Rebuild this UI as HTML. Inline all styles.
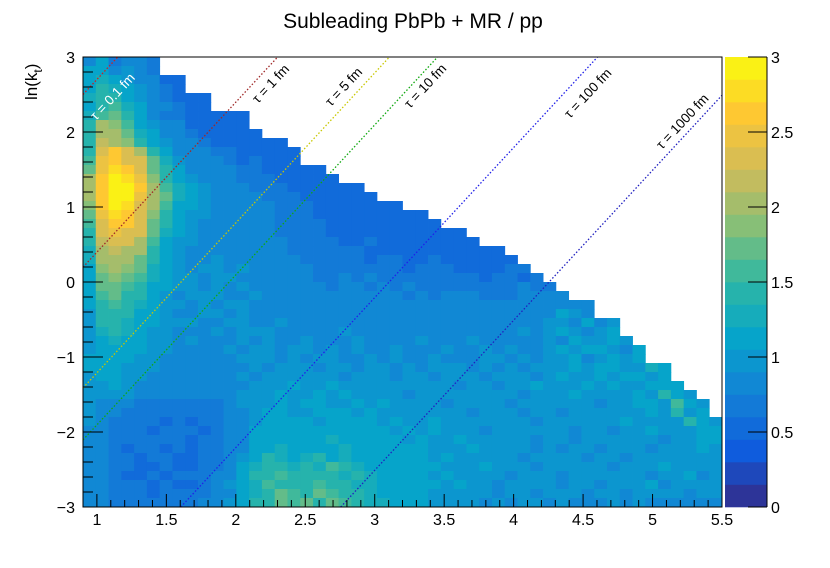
<!DOCTYPE html>
<html><head><meta charset="utf-8"><style>
html,body{margin:0;padding:0;background:#fff;}
svg text{font-family:"Liberation Sans",sans-serif;}
</style></head><body>
<svg id="chart" width="830" height="563" xmlns="http://www.w3.org/2000/svg">
<rect x="0" y="0" width="830" height="563" fill="#fff"/>
<text x="413" y="28" font-size="21" text-anchor="middle" fill="#000">Subleading PbPb + MR / pp</text>
<g id="cells"></g>
<g id="lines"></g>
<g id="axes"></g>
<g id="cbar"></g>
<text transform="translate(37,100) rotate(-90)" font-size="17" fill="#000">ln(k<tspan font-size="12" dy="5">t</tspan><tspan dy="-5">)</tspan></text>
</svg>
<script>
// ---- data ----
const xBinEdges = [0.9, 5.5];
const yBinEdges = [-3, 3];
const nXBins = 50;
const nYBins = 50;
const xTickLabels = ["1","1.5","2","2.5","3","3.5","4","4.5","5","5.5"];
const xTickValues = [1,1.5,2,2.5,3,3.5,4,4.5,5,5.5];
const yTickLabels = ["\u22123","\u22122","\u22121","0","1","2","3"];
const yTickValues = [-3,-2,-1,0,1,2,3];
const zTickValues = [0,0.5,1,1.5,2,2.5,3];
const zTickLabels = ["0","0.5","1","1.5","2","2.5","3"];
const tauValues = [0.1,1,5,10,100,1000];
const tauLabels = ["\u03c4 = 0.1 fm","\u03c4 = 1 fm","\u03c4 = 5 fm","\u03c4 = 10 fm","\u03c4 = 100 fm","\u03c4 = 1000 fm"];
const tauColors = ["#d02020","#a02828","#c8c800","#10a810","#2020e8","#2020c0"];
// rows from top (ln kt = 3) to bottom; code: 0-9 => 0.0-0.9, A..U => 1.0..3.0
const rows = [
"8B7987",
"BC9A87",
"CDCA9866",
"CEDBA976",
"DFFCA87665",
"CFGDB98765",
"DGHEB97765 655",
"EKJGCA9866 565",
"ELKIDB9876 5665",
"FMLJEBA987 665655",
"FOQNLFC998 7766556",
"GPRONHDA98 8767665",
"IPSQOIEB99 8877666 55",
"KQTSPJFCA9 8877766565",
"LRUTQKGDBA 9887776665 55",
"KRUTPLHDBA 9988777666 565",
"JQTSOKGCBA 9988877766 66555",
"IPSROJFCAA 9998877766 6665556",
"GORQNIEBA9 9988877776 66665566",
"FNPONHDBA9 9998877776 6666665556",
"EMONLGCAA9 9998887777 6676666665 6",
"DLMLKFCA99 9999887777 7766666666 565",
"DKLKIEBA99 A999888777 7767766766 6666",
"CJKJHDBA9A A9A9988877 7777767776 66677",
"CIJIGDBAA9 AA99988877 8787777777 767767",
"BHIGFCBAA9 A9A9998887 8878787777 7777877",
"BGHFECA9AA A99A998888 8888878788 87778888",
"BFGFDCAA9A 9AA9999888 9888888888 8888998988",
"AFFECBA99A A9A9999988 9899888898 8989899CA9",
"AEFDCBAAA9 9AA99A9999 9989989899 898999AA9B 9A",
"ADEDCAA999 A9AAA99999 A999999899 9999A9ABA9 AB",
"ACDCBAA9A9 99A9A99A99 9A9999A999 A99999A9BA ABA",
"ACCBBAA999 9A9AA9AA9A 9A99A999A9 9A9A99ABAB BA9C",
"BBCBAA9999 99AAA9A9AA 99A9A99A99 9AA9A9AAB9 ABAB",
"BBBAAA9999 999A9AAA9A A9AA9A9AAA 9A9A9AAABA BBAADC",
"ABBAA99999 99A9AAAAAA 9AAA9AA9AA A9AAA9ABAA BABCAB",
"AABA999998 999AAABAAB AAAAAAAAA9 AA9AABAAAB ABAACBC",
"AAAA999988 99AAABAABA BAAAA9AAAA AAAA9AAABA AAABAEBA",
"A988777777 78AAABABBA ABABAAAA9A AAA9AAAAAA 9AABBAGBA",
"A987777777 789ABBAABB BABAAAAAAA 9AAA9AA9AA AAAABAFAB",
"A977776767 789ABBBBAB BBBABAABAA AAAAA9AAAA AABAAAAEBA",
"9877767776 789BCBBBBC BBBBABABAA A9AAAAAA9A A9AABAAABB",
"9877777767 789BCBBCBD CCBBBABAAB AAAAA9AA9A AAAAA9AACB",
"9876776767 789BCDCBCC DCBCBBBAAA BAAAA9A9AA 9AAA9AAABA",
"9877677667 78ACEDCDEC DCCBCBBABA AAAA9AAAA9 AA9AAAAAAA",
"8877667667 79BDFEDEDG EDCCCBBBAA ABAAA9AAAA A9AAABAAAA",
"9876676777 89BEFGEFFE DEDCCBBABA AAA9AAA9AA AAAA9AAB9A",
"9877767667 8ACDGFEFGE EDDCBCBBAB AA9AAAA9AA 9AAAB9AAAA",
"9877767777 89BDEHGFHG FEDCCBBAAA AA9AA9AAA9 AA9AAAA9AA",
"9877777778 8ACFEIGHFH GEDDCBBAAA A9A9AA9A99 9A8A998989"
];
// label anchor layout (pixels, not data)
const tauLabelAnchors = [[96,121],[258,104],[331,107],[410,109],[570,119],[662,150]];
// ---- geometry ----
const PL=83, PR=722, PT=57, PB=507;
const xs = v => PL + (v - xBinEdges[0]) / (xBinEdges[1]-xBinEdges[0]) * (PR-PL);
const ys = v => PB - (v - yBinEdges[0]) / (yBinEdges[1]-yBinEdges[0]) * (PB-PT);
const NS="http://www.w3.org/2000/svg";
function mk(tag, attrs, parent){const e=document.createElementNS(NS,tag);for(const k in attrs)e.setAttribute(k,attrs[k]);parent.appendChild(e);return e;}
const stops=[[53,42,135],[15,92,221],[20,129,214],[6,164,202],[46,183,164],[135,191,119],[209,187,89],[254,200,50],[249,251,14]];
function pal(t){t=Math.max(0,Math.min(1,t));const p=t*8;const i=Math.min(7,Math.floor(p));const f=p-i;const a=stops[i],b=stops[i+1];
 return "rgb("+a.map((c,k)=>Math.round(c+(b[k]-c)*f)).join(",")+")";}
const NLEV=20, ZMAX=3;
function colorFor(v){let lev=Math.floor(v/ZMAX*NLEV);lev=Math.max(0,Math.min(NLEV-1,lev));return pal((lev+0.5)/NLEV);}
function decode(ch){let v;if(ch>='0'&&ch<='9')v=(ch.charCodeAt(0)-48)/10;else v=1+(ch.charCodeAt(0)-65)/10;return v-0.04;}
const values = rows.map(r => r.replace(/ /g,'').split('').map(decode));
// ---- cells ----
const gC=document.getElementById('cells');
const dx=(xBinEdges[1]-xBinEdges[0])/nXBins, dy=(yBinEdges[1]-yBinEdges[0])/nYBins;
values.forEach((row,ri)=>{row.forEach((v,ci)=>{
 const x0=xs(xBinEdges[0]+ci*dx), x1=xs(xBinEdges[0]+(ci+1)*dx);
 const yTop=ys(yBinEdges[1]-ri*dy), yBot=ys(yBinEdges[1]-(ri+1)*dy);
 const r=mk('rect',{x:x0.toFixed(2),y:yTop.toFixed(2),width:(x1-x0+0.4).toFixed(2),height:(yBot-yTop+0.4).toFixed(2),fill:colorFor(v)},gC);
 
 
});});
// ---- tau lines: ln kt = 2 x + b ----
const gL=document.getElementById('lines');
const b0=0.7;
tauValues.forEach((tau,i)=>{
 const b=b0-Math.log(tau/0.1);
 let xa=xBinEdges[0], ya=2*xa+b; if(ya<-3){ya=-3;xa=(ya-b)/2;}
 let xb=xBinEdges[1], yb=2*xb+b; if(yb>3){yb=3;xb=(yb-b)/2;}
 if(xb<=xa)return;
 const l=mk('line',{x1:xs(xa),y1:ys(ya),x2:xs(xb),y2:ys(yb),stroke:tauColors[i],'stroke-width':1.3,'stroke-dasharray':'1.5,2'},gL);
 
 
 const px=tauLabelAnchors[i][0], py=tauLabelAnchors[i][1];
 const t=mk('text',{x:px,y:py,'font-size':13.5,fill:(i==0?'#fff':'#000'),transform:'rotate(-47 '+px+' '+py+')'},gL);
 t.textContent=tauLabels[i];
 
 
});
// ---- axes ----
const gA=document.getElementById('axes');
mk('rect',{x:PL,y:PT,width:PR-PL,height:PB-PT,fill:'none',stroke:'#000','stroke-width':1},gA);
for(let k=0;k<=46;k++){const v=0.9+k*0.1;const X=xs(v);const major=Math.abs(v*2-Math.round(v*2))<1e-6;
 mk('line',{x1:X,y1:PB,x2:X,y2:PB-(major?13:7),stroke:'#000','stroke-width':1},gA);}
xTickValues.forEach((v,i)=>{const t=mk('text',{x:xs(v),y:525,'font-size':16,'text-anchor':'middle',fill:'#000'},gA);t.textContent=xTickLabels[i];
 
 });
for(let k=0;k<=30;k++){const v=-3+k*0.2;const Y=ys(v);const major=k%5==0;
 mk('line',{x1:PL,y1:Y,x2:PL+(major?20:10),y2:Y,stroke:'#000','stroke-width':1},gA);}
yTickValues.forEach((v,i)=>{const t=mk('text',{x:75,y:ys(v)+6,'font-size':16,'text-anchor':'end',fill:'#000'},gA);t.textContent=yTickLabels[i];
 
 });
// ---- color bar ----
const gB=document.getElementById('cbar');
const CL=725, CR=767;
const zs=v=>PB-v/ZMAX*(PB-PT);
for(let l=0;l<NLEV;l++){const z0=l*ZMAX/NLEV,z1=(l+1)*ZMAX/NLEV;
 const r=mk('rect',{x:CL,y:zs(z1),width:CR-CL,height:zs(z0)-zs(z1)+0.3,fill:pal((l+0.5)/NLEV)},gB);
 
 }
mk('line',{x1:CR,y1:PT,x2:CR,y2:PB,stroke:'#000','stroke-width':1},gB);
zTickValues.forEach((v,i)=>{mk('line',{x1:CR,y1:zs(v),x2:CR-19,y2:zs(v),stroke:'#000','stroke-width':1},gB);
 const t=mk('text',{x:771,y:zs(v)+6,'font-size':16,fill:'#000'},gB);t.textContent=zTickLabels[i];
 
 });
</script>
</body></html>
